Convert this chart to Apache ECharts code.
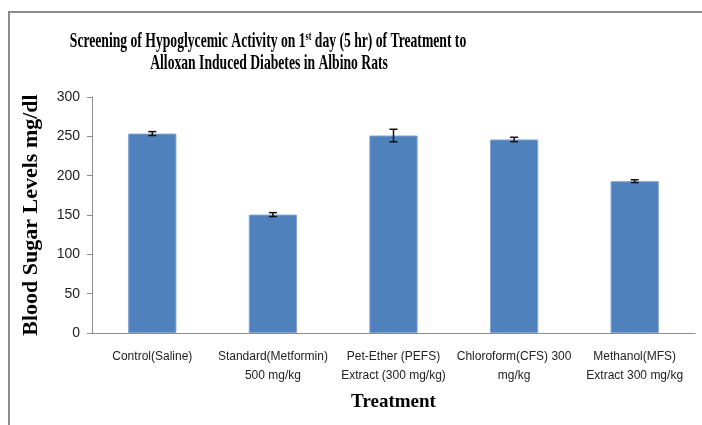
<!DOCTYPE html>
<html><head><meta charset="utf-8">
<script src="https://cdn.jsdelivr.net/npm/echarts@6/dist/echarts.min.js"></script>
<style>html,body{margin:0;padding:0;background:#fff}#c{width:702px;height:425px}</style>
</head><body><div id="c"></div>
<script>
const categories = ['Control(Saline)', 'Standard(Metformin)\n500 mg/kg', 'Pet-Ether (PEFS)\nExtract (300 mg/kg)', 'Chloroform(CFS) 300\nmg/kg', 'Methanol(MFS)\nExtract 300 mg/kg'];
const values = [253.5, 150.5, 251, 246, 193];
const errors = [2.5, 2.5, 8, 2.8, 1.8];
const yTicks = [0, 50, 100, 150, 200, 250, 300];

const chart = echarts.init(document.getElementById('c'), null, {renderer: 'canvas'});
const errData = values.map((v, i) => [i, v - errors[i], v + errors[i]]);
chart.setOption({
  animation: false,
  graphic: [
    {type: 'rect', shape: {x: 9, y: 12, width: 800, height: 500}, style: {fill: 'none', stroke: '#8c8c8c', lineWidth: 2}, silent: true},
    {type: 'text', x: 268, y: 41, scaleX: 0.62, style: {
      text: 'Screening of Hypoglycemic Activity on 1{sup|st} day (5 hr) of Treatment to',
      align: 'center', verticalAlign: 'middle', fill: '#000',
      font: 'bold 22px "Liberation Serif"',
      rich: {sup: {fontSize: 13, fontWeight: 'bold', fontFamily: 'Liberation Serif', verticalAlign: 'top', padding: [0, 0, 9, 0]}}
    }},
    {type: 'text', x: 269, y: 63, scaleX: 0.62, style: {
      text: 'Alloxan Induced Diabetes in Albino Rats',
      align: 'center', verticalAlign: 'middle', fill: '#000',
      font: 'bold 22px "Liberation Serif"'
    }}
  ],
  grid: {left: 92, right: 7, top: 97, bottom: 92, containLabel: false},
  xAxis: {
    type: 'category', data: categories,
    name: 'Treatment', nameLocation: 'middle', nameGap: 60,
    nameTextStyle: {fontFamily: 'Liberation Serif', fontWeight: 'bold', fontSize: 19, color: '#000'},
    axisLine: {lineStyle: {color: '#8c8c8c', width: 1}},
    axisTick: {show: false},
    axisLabel: {interval: 0, color: '#222', fontFamily: 'Liberation Sans', fontSize: 12, lineHeight: 19, margin: 14}
  },
  yAxis: {
    type: 'value', min: 0, max: 300, interval: 50,
    name: 'Blood Sugar Levels mg/dl', nameLocation: 'middle', nameGap: 50,
    nameTextStyle: {fontFamily: 'Liberation Serif', fontWeight: 'bold', fontSize: 22, color: '#000'},
    axisLine: {show: true, lineStyle: {color: '#8c8c8c', width: 1}},
    axisTick: {show: true, length: 5, lineStyle: {color: '#8c8c8c'}},
    splitLine: {show: false},
    axisLabel: {color: '#222', fontFamily: 'Liberation Sans', fontSize: 14, margin: 12,
      formatter: v => yTicks.includes(v) ? String(v) : ''}
  },
  series: [
    {type: 'bar', data: values, barWidth: '40%',
     itemStyle: {color: '#4F81BD', borderColor: '#7FA3D3', borderWidth: 1}},
    {type: 'custom', data: errData, z: 10,
     renderItem: function (params, api) {
       const x = api.value(0);
       const lo = api.coord([x, api.value(1)]);
       const hi = api.coord([x, api.value(2)]);
       const w = 4;
       const st = {stroke: '#111', lineWidth: 1.5};
       return {type: 'group', children: [
         {type: 'line', shape: {x1: hi[0], y1: hi[1], x2: lo[0], y2: lo[1]}, style: st},
         {type: 'line', shape: {x1: hi[0] - w, y1: hi[1], x2: hi[0] + w, y2: hi[1]}, style: st},
         {type: 'line', shape: {x1: lo[0] - w, y1: lo[1], x2: lo[0] + w, y2: lo[1]}, style: st}
       ]};
     }}
  ]
});
</script></body></html>
